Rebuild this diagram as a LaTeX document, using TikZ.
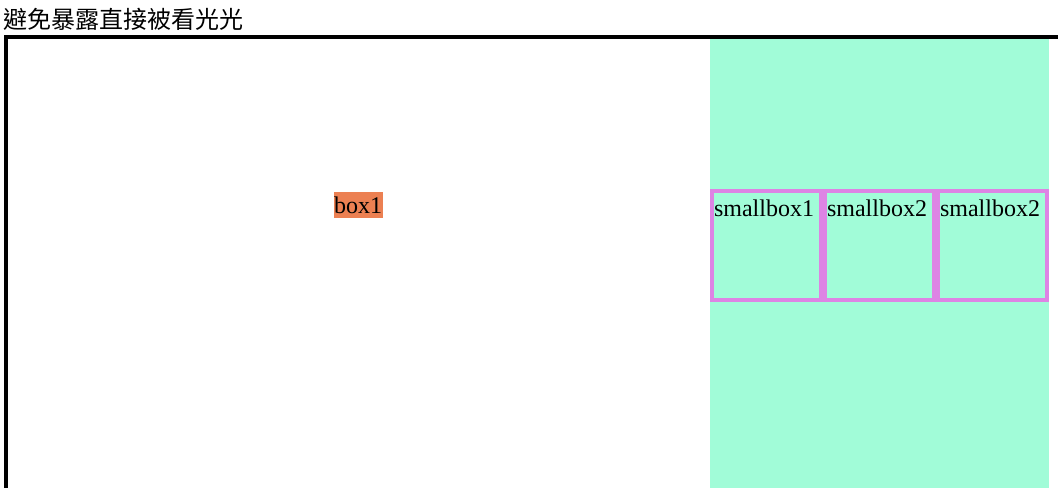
\documentclass[tikz,border=0pt]{standalone}
\usepackage{fontspec}
\setmainfont{Liberation Serif}
\newfontfamily\cjk{Noto Sans CJK TC}
\definecolor{mintbg}{RGB}{161,252,216}
\definecolor{pinkbd}{RGB}{221,132,228}
\definecolor{orangebg}{RGB}{236,128,82}
\tikzset{
  txt/.style={inner sep=0pt, outer sep=0pt, font=\fontsize{24}{28}\selectfont},
  smallbox/.style={draw=pinkbd, line width=4pt, fill=mintbg},
}
\begin{document}
\begin{tikzpicture}[x=1pt,y=-1pt]
\useasboundingbox (0,0) rectangle (1058,488);
\fill[white] (0,0) rectangle (1058,488);
% title
\node[txt, anchor=base west] (title) at (4,28.5) {\cjk 避免暴露直接被看光光};
% outer border (top and left)
\fill[black] (4,35) rectangle (1058,39);
\fill[black] (4,35) rectangle (8,488);
% right panel
\fill[mintbg] (710,39) rectangle (1049,488);
% small boxes
\draw[smallbox] (712,191) rectangle (820.7,299.7);
\draw[smallbox] (824.7,191) rectangle (934,299.7);
\draw[smallbox] (937.7,191) rectangle (1047,299.7);
\node[txt, anchor=base west] (sb1) at (714,216) {smallbox1};
\node[txt, anchor=base west] (sb2) at (827,216) {smallbox2};
\node[txt, anchor=base west] (sb3) at (940,216) {smallbox2};
% box1
\fill[orangebg] (334,192) rectangle (383,218);
\node[txt, anchor=base west] (box1) at (334,213.5) {box1};
\end{tikzpicture}
\end{document}
